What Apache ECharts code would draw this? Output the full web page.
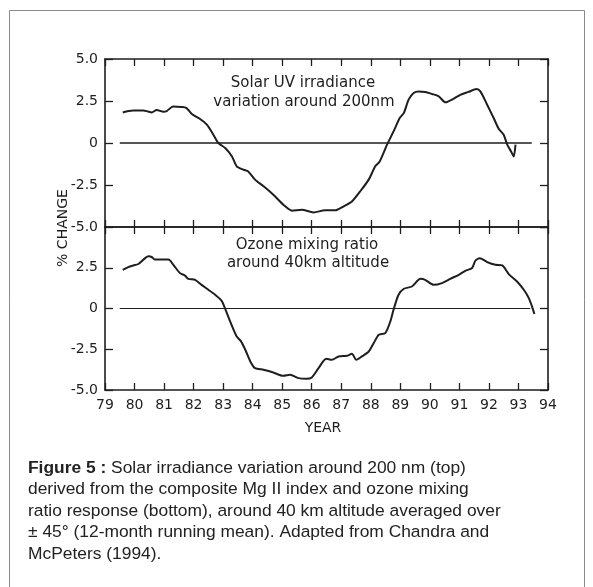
<!DOCTYPE html>
<html>
<head>
<meta charset="utf-8">
<script src="https://cdn.jsdelivr.net/npm/echarts@6/dist/echarts.min.js"></script>
<style>
html,body{margin:0;padding:0;background:#fff;}
#chart{width:593px;height:587px;}
</style>
</head>
<body>
<div id="chart"></div>
<script>
// ---- data ----
var yearTicks = [79,80,81,82,83,84,85,86,87,88,89,90,91,92,93,94];
var changeTicks = [-5.0,-2.5,0,2.5,5.0];

var uvYears = [79.6,79.73,79.96,80.3,80.45,80.58,80.75,80.98,81.09,81.31,81.6,81.76,81.94,82.22,82.45,82.67,82.84,83.07,83.3,83.46,83.69,83.85,84.08,84.37,84.7,85.04,85.33,85.66,86.06,86.45,86.8,87.08,87.36,87.64,87.93,88.15,88.3,88.55,88.77,88.98,89.12,89.28,89.45,89.62,89.84,90.07,90.3,90.53,90.75,91.03,91.31,91.58,91.71,91.94,92.16,92.33,92.5,92.62,92.75,92.84,92.9];
var uvChange = [1.82,1.88,1.94,1.94,1.88,1.82,1.96,1.86,1.9,2.18,2.14,2.08,1.73,1.43,1.09,0.49,0,-0.3,-0.8,-1.39,-1.59,-1.69,-2.18,-2.58,-3.08,-3.67,-4.03,-3.97,-4.13,-4.01,-4.01,-3.77,-3.48,-2.88,-2.18,-1.39,-1.1,-0.1,0.69,1.49,1.79,2.58,2.98,3.07,3.04,2.92,2.78,2.42,2.58,2.87,3.04,3.21,3.07,2.28,1.49,0.85,0.49,-0.1,-0.5,-0.8,-0.1];

var ozoneYears = [79.6,79.79,79.96,80.13,80.3,80.47,80.58,80.69,80.92,81.15,81.31,81.54,81.71,81.82,82.05,82.27,82.5,82.73,82.95,83.07,83.24,83.46,83.6,83.75,83.92,84.08,84.37,84.7,85.04,85.27,85.55,85.83,86.0,86.23,86.49,86.68,86.91,87.19,87.36,87.51,87.7,87.93,88.1,88.27,88.49,88.66,88.77,88.94,89.12,89.39,89.68,89.84,90.13,90.41,90.69,90.98,91.2,91.43,91.54,91.69,91.94,92.22,92.45,92.67,92.95,93.18,93.35,93.46,93.54];
var ozoneChange = [2.37,2.54,2.64,2.73,3.0,3.2,3.16,3.0,3.0,3.0,2.69,2.17,2.02,1.82,1.76,1.45,1.15,0.84,0.47,-0.02,-0.8,-1.72,-2.0,-2.53,-3.25,-3.66,-3.76,-3.93,-4.13,-4.07,-4.27,-4.31,-4.23,-3.66,-3.09,-3.15,-2.94,-2.9,-2.78,-3.15,-2.94,-2.64,-2.12,-1.61,-1.51,-0.8,-0.08,0.84,1.21,1.35,1.82,1.76,1.45,1.56,1.82,2.07,2.31,2.48,2.93,3.09,2.85,2.68,2.64,2.11,1.66,1.15,0.64,0.12,-0.34];

var uvZeroLine = [79.5, 93.45];
var ozoneZeroLine = [79.5, 93.4];

var uvTitle = ['Solar UV irradiance', 'variation around 200nm'];
var ozoneTitle = ['Ozone mixing ratio', 'around 40km altitude'];
var yTitle = '% CHANGE';
var xTitle = 'YEAR';
var captionBold = 'Figure 5 :';
var captionLines = [
  ' Solar irradiance variation around 200 nm (top)',
  'derived from the composite Mg II index and ozone mixing',
  'ratio response (bottom), around 40 km altitude averaged over',
  '\u00b1 45\u00b0 (12-month running mean). Adapted from Chandra and',
  'McPeters (1994).'
];

function pairs(xs, ys){ return xs.map(function(x,i){ return [x, ys[i]]; }); }

var ink = '#1e1e1e';
var axisFont = 'DejaVu Sans';

function xAx(grid, pos, showLabel){
  return {
    type:'value', gridIndex:grid, position:pos,
    min:yearTicks[0], max:yearTicks[yearTicks.length-1], interval:1,
    axisLine:{show:true, onZero:false, lineStyle:{color:ink, width:1.6}},
    axisTick:{show:true, inside:true, length:7, lineStyle:{color:ink, width:1.3}},
    axisLabel:{show:showLabel, color:ink, fontFamily:axisFont, fontSize:14, margin:8},
    splitLine:{show:false}
  };
}
function yAx(grid, pos, showLabel, showMax){
  return {
    type:'value', gridIndex:grid, position:pos,
    min:changeTicks[0], max:changeTicks[changeTicks.length-1], interval:2.5,
    axisLine:{show:true, onZero:false, lineStyle:{color:ink, width:1.6}},
    axisTick:{show:true, inside:true, length:8, lineStyle:{color:ink, width:1.3}},
    axisLabel:{show:showLabel, showMaxLabel:showMax, color:ink, fontFamily:axisFont, fontSize:14, margin:7,
      formatter:function(v){ return v===0 ? '0' : v.toFixed(1); }},
    splitLine:{show:false}
  };
}

var chart = echarts.init(document.getElementById('chart'), null, {renderer:'canvas'});
chart.setOption({
  animation:false,
  backgroundColor:'#fff',
  grid:[
    {left:105, right:45, top:59, height:168},
    {left:105, right:45, top:227, height:163}
  ],
  xAxis:[xAx(0,'top',false), xAx(0,'bottom',false), xAx(1,'top',false), xAx(1,'bottom',true)],
  yAxis:[yAx(0,'left',true,true), yAx(0,'right',false,true), yAx(1,'left',true,false), yAx(1,'right',false,false)],
  series:[
    {type:'line', xAxisIndex:1, yAxisIndex:0, data:uvZeroLine.map(function(x){return [x,0];}),
      symbol:'none', lineStyle:{color:ink, width:1.3}, silent:true},
    {type:'line', xAxisIndex:3, yAxisIndex:2, data:ozoneZeroLine.map(function(x){return [x,0];}),
      symbol:'none', lineStyle:{color:ink, width:1.1}, silent:true},
    {type:'line', name:'Solar UV', xAxisIndex:1, yAxisIndex:0, data:pairs(uvYears, uvChange),
      symbol:'none', smooth:0.25, lineStyle:{color:ink, width:2}},
    {type:'line', name:'Ozone', xAxisIndex:3, yAxisIndex:2, data:pairs(ozoneYears, ozoneChange),
      symbol:'none', smooth:0.25, lineStyle:{color:ink, width:2}}
  ],
  graphic:[
    {type:'rect', shape:{x:9.5, y:10.5, width:575, height:600}, style:{fill:'none', stroke:'#8a8a8a', lineWidth:1}, silent:true},
    {type:'text', x:303, y:83, style:{text:uvTitle[0], fontFamily:axisFont, fontSize:15, fill:ink, textAlign:'center', textVerticalAlign:'middle'}},
    {type:'text', x:304, y:102, style:{text:uvTitle[1], fontFamily:axisFont, fontSize:15, fill:ink, textAlign:'center', textVerticalAlign:'middle'}},
    {type:'text', x:307, y:245, style:{text:ozoneTitle[0], fontFamily:axisFont, fontSize:15, fill:ink, textAlign:'center', textVerticalAlign:'middle'}},
    {type:'text', x:308, y:263, style:{text:ozoneTitle[1], fontFamily:axisFont, fontSize:15, fill:ink, textAlign:'center', textVerticalAlign:'middle'}},
    {type:'text', x:63, y:228, rotation:Math.PI/2, style:{text:yTitle, fontFamily:axisFont, fontSize:14, fill:ink, textAlign:'center', textVerticalAlign:'middle'}},
    {type:'text', x:323, y:428, style:{text:xTitle, fontFamily:axisFont, fontSize:14, fill:ink, textAlign:'center', textVerticalAlign:'middle'}},
    {type:'text', x:28, y:457, style:{
      text:'{b|'+captionBold+'}'+captionLines[0]+'\n'+captionLines.slice(1).join('\n'),
      fontFamily:'Liberation Sans', fontSize:17.4, fill:'#222', lineHeight:21.5,
      rich:{b:{fontFamily:'Liberation Sans', fontWeight:'bold', fontSize:17.4, fill:'#222', lineHeight:21.5}}
    }}
  ]
});
</script>
</body>
</html>
